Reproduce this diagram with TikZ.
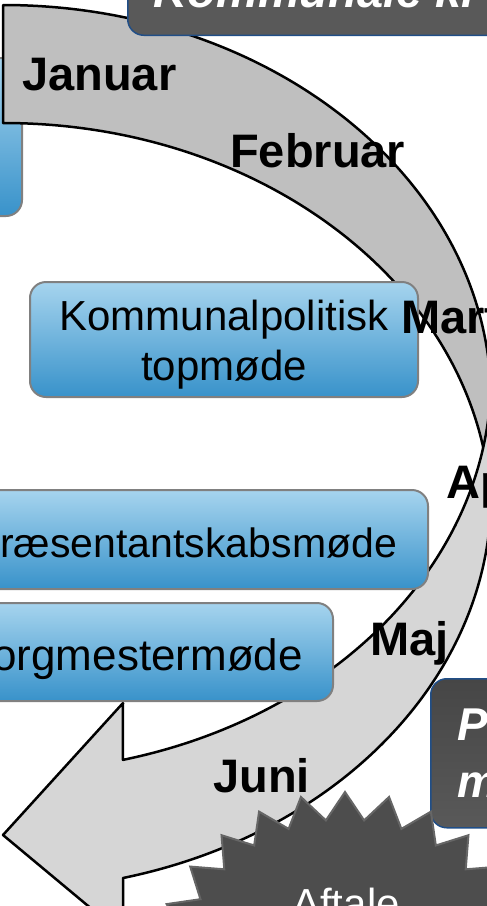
\documentclass[tikz,border=0pt]{standalone}
\usepackage{fontspec}
\setmainfont{Liberation Sans}
\usetikzlibrary{shapes.geometric}

\definecolor{bandback}{RGB}{191,191,191}
\definecolor{bandfront}{RGB}{214,214,214}
\definecolor{boxtop}{RGB}{166,212,238}
\definecolor{boxbottom}{RGB}{56,146,202}
\definecolor{boxline}{RGB}{128,128,128}
\definecolor{darkfill}{RGB}{89,89,89}
\definecolor{darktop}{RGB}{70,70,70}
\definecolor{darkline}{RGB}{32,78,135}
\definecolor{burstfill}{RGB}{77,77,77}
\definecolor{burstline}{RGB}{102,102,102}

\begin{document}
\begin{tikzpicture}[x=1pt, y=-1pt,
  band/.style={draw=black, line width=2.5pt, line join=round},
  meeting/.style={draw=boxline, line width=2pt, rounded corners=16pt, top color=boxtop, bottom color=boxbottom, inner sep=0pt, font=\fontsize{42}{50}\selectfont, align=center},
  month/.style={anchor=base west, inner sep=0pt, font=\fontsize{47}{56}\selectfont\bfseries},
  darkbox/.style={draw=darkline, line width=1.5pt, rounded corners=16pt, fill=darkfill, text=white, inner ysep=0pt, font=\fontsize{47}{56}\selectfont\bfseries\itshape, align=left},
  burst/.style={star, star points=28, star point ratio=1.16, fill=burstfill, draw=burstline, line width=2pt, inner sep=0pt}]
\useasboundingbox (0,0) rectangle (487,906);
\clip (0,0) rectangle (487,906);
\node[meeting, minimum width=400, minimum height=158] (prevbox) at (-178,137) {};
\draw [band, fill=bandback] (3,5) arc[start angle=90, end angle=0, x radius=488pt, y radius=395pt] -- (491,518) arc[start angle=0, end angle=90, x radius=488pt, y radius=395pt] -- cycle;
\draw [band, fill=bandfront] (491,377) arc[start angle=0, end angle=-75.77, x radius=488pt, y radius=395pt] -- (123,703) -- (3,835) -- (123,935) -- (123,878) arc[start angle=-75.77, end angle=0, x radius=488pt, y radius=395pt] -- cycle;
\node[meeting, minimum width=388, minimum height=115, text height=90pt, text depth=9pt] (summit) at (224,339.5) {Kommunalpolitisk\\topmøde};
\node[meeting, minimum width=534, minimum height=99, text height=45pt, text depth=10pt, font=\fontsize{41}{49}\selectfont] (assembly) at (161,539.5) {Repræsentantskabsmøde};
\node[meeting, minimum width=400, minimum height=98, text height=48pt, text depth=11pt, font=\fontsize{44}{53}\selectfont] (mayors) at (133,652) {Borgmestermøde};
\node[darkbox, anchor=south west, minimum height=90, inner xsep=26pt] (title) at (127,36) {Kommunale kr};
\node[month] (jan) at (22,90) {Januar};
\node[month] (feb) at (230,167) {Februar};
\node[month] (mar) at (401,333) {Marts};
\node[month] (apr) at (446,498) {April};
\node[month] (may) at (370,655) {Maj};
\node[month] (jun) at (213,792) {Juni};
\node[darkbox, anchor=north west, minimum height=149, inner xsep=27pt, top color=darktop, bottom color=darkfill, font=\fontsize{46}{57}\selectfont\bfseries\itshape] (mandate) at (430,678) {P\\m};
\node[burst, minimum size=396] (deal) at (345,990) {};
\node[anchor=base, inner sep=0pt, text=white, font=\fontsize{42}{50}\selectfont] (dealtext) at (346,918) {Aftale};
\end{tikzpicture}
\end{document}
